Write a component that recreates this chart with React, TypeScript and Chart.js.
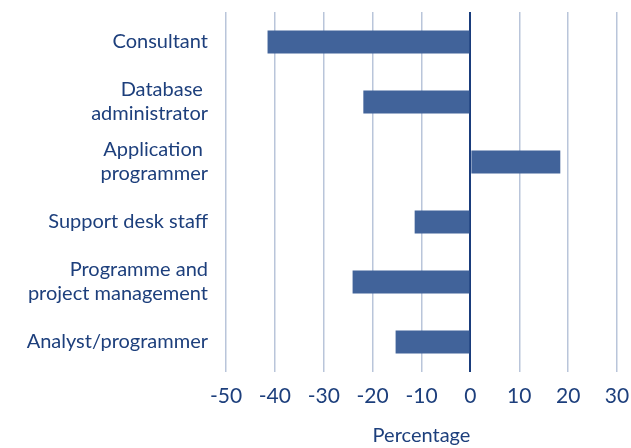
import React, { useEffect, useRef } from "react";
import { Chart, registerables } from "chart.js";

Chart.register(...registerables);

const categories: (string | string[])[] = [
  "Consultant",
  ["Database ", "administrator"],
  ["Application ", "programmer"],
  "Support desk staff",
  ["Programme and", "project management"],
  "Analyst/programmer",
];
const values: number[] = [-41.5, -21.9, 18.4, -11.4, -24.1, -15.3];
const xTicks: number[] = [-50, -40, -30, -20, -10, 0, 10, 20, 30];
const axisTitle = "Percentage";

const TEXT = "#1d3f7c";
const BAR = "#41639a";
const GRID = "#b9c5da";
const ZERO = "#1a3d7c";
const FONT = "Lato";

const zeroPad = (s: any) => {
  s.paddingTop = 0;
  s.paddingBottom = 0;
  s.paddingLeft = 0;
  s.paddingRight = 0;
};

export default function App() {
  const ref = useRef<HTMLCanvasElement | null>(null);
  useEffect(() => {
    if (!ref.current) return;
    const chart = new Chart(ref.current, {
      type: "bar",
      data: {
        labels: categories,
        datasets: [
          {
            data: values,
            backgroundColor: BAR,
            borderWidth: 0,
            barPercentage: 0.38,
            categoryPercentage: 1,
          },
        ],
      },
      options: {
        indexAxis: "y",
        animation: false,
        responsive: false,
        layout: { padding: { top: 12, right: 14, left: 0, bottom: 0 } },
        plugins: { legend: { display: false }, tooltip: { enabled: false } },
        scales: {
          x: {
            min: -50,
            max: 30,
            afterBuildTicks: (s: any) => {
              s.ticks = xTicks.map((v) => ({ value: v }));
            },
            afterFit: (s: any) => {
              s.height = 76;
              zeroPad(s);
            },
            border: { display: false },
            grid: {
              drawTicks: false,
              color: (c: any) => (c.tick && c.tick.value === 0 ? ZERO : GRID),
              lineWidth: (c: any) => (c.tick && c.tick.value === 0 ? 2 : 1.5),
            },
            ticks: {
              color: TEXT,
              padding: 12,
              font: { family: FONT, size: 21 },
            },
            title: {
              display: true,
              text: axisTitle,
              color: TEXT,
              font: { family: FONT, size: 20 },
              padding: { top: 0, bottom: 0 },
            },
          },
          y: {
            afterFit: (s: any) => {
              s.width = 226;
              zeroPad(s);
            },
            border: { display: false },
            grid: { display: false, drawTicks: false },
            ticks: {
              color: TEXT,
              padding: 18,
              font: { family: FONT, size: 20, lineHeight: 1.2 },
            },
          },
        },
      },
    });
    return () => chart.destroy();
  }, []);
  return (
    <div style={{ position: "absolute", left: 0, top: 0, width: 631, height: 448 }}>
      <canvas ref={ref} width={631} height={448} />
    </div>
  );
}
